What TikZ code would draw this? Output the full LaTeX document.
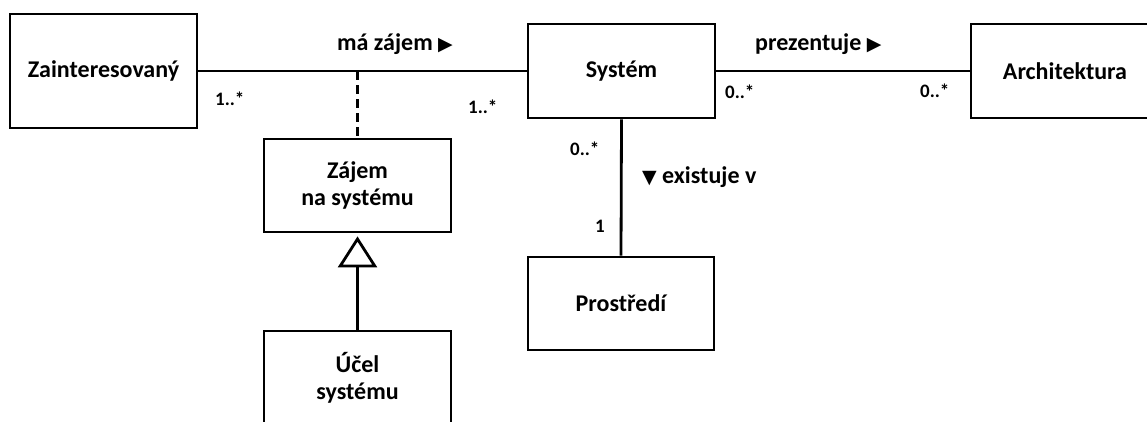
\documentclass[tikz,border=0pt]{standalone}
\usepackage{fontspec}
\setmainfont{Carlito}
\newfontfamily\symfont{DejaVu Sans}
\newcommand\trisym[1]{{\symfont\fontsize{19}{19}\selectfont #1}}
\usetikzlibrary{arrows.meta}
\begin{document}
\begin{tikzpicture}[x=1pt,y=-1pt,
  box/.style={draw, line width=2.8pt, inner sep=0pt, minimum width=187pt, minimum height=94pt, align=center, font=\bfseries\fontsize{24}{27}\selectfont},
  lbl/.style={inner sep=0pt, font=\bfseries\fontsize{24}{27}\selectfont},
  mult/.style={inner sep=0pt, font=\bfseries\fontsize{19}{22}\selectfont},
  conn/.style={line width=2.8pt}]
\useasboundingbox (0,0) rectangle (1147,421);
\node[box, minimum height=114pt] (Z) at (103.5,71) {Zainteresovaný};
\node[box] (S) at (621.5,71) {Systém};
\node[box, minimum width=188pt] (A) at (1065,71) {Architektura};
\node[box, minimum height=93pt] (Zj) at (357.5,185.5) {Zájem\\na systému};
\node[box, minimum height=93pt] (U) at (357.5,377.5) {Účel\\systému};
\node[box, minimum height=93pt, minimum width=186pt] (P) at (621,303.5) {Prostředí};
\coordinate (m) at (Zj.north |- Z.east);
\draw[conn] (Z.east) -- (S.west);
\draw[conn] (S.east) -- (A.west);
\draw[conn, dash pattern=on 9pt off 5pt] (m) -- (Zj.north);
\draw[conn, -{Triangle[open, width=39pt, length=31pt]}, shorten >=3pt] (U.north) -- (Zj.south);
\draw[conn] (S.south) -- (P.north);
\node[lbl, anchor=base west] (l1) at (337,50) {má zájem \trisym{▶}};
\node[lbl, anchor=base west] (l2) at (755,50) {prezentuje \trisym{▶}};
\node[lbl, anchor=base west] (l3) at (642,183) {\trisym{▼} existuje v};
\node[mult, anchor=base west] (m1) at (215,105) {1..*};
\node[mult, anchor=base west] (m2) at (468,113) {1..*};
\node[mult, anchor=base west] (m3) at (725,98) {0..*};
\node[mult, anchor=base west] (m4) at (920,97) {0..*};
\node[mult, anchor=base west] (m5) at (570,155) {0..*};
\node[mult, anchor=base east] (m6) at (605,232) {1};
\end{tikzpicture}
\end{document}
